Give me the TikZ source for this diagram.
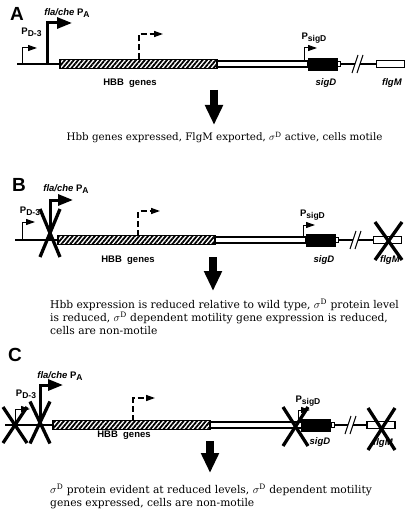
\documentclass[tikz,border=0pt]{standalone}
\usepackage{fontspec}
\setmainfont{DejaVu Serif}
\setsansfont{Liberation Sans}
\usetikzlibrary{positioning,arrows.meta,patterns.meta}

\newcommand{\lowsub}[1]{\raisebox{-0.35ex}{\fontsize{8.5}{8.5}\selectfont #1}}
\newcommand{\sigmaD}{$\sigma^{\mathrm{D}}$}

\begin{document}
\begin{tikzpicture}[x=1pt, y=-1pt]

% Styles
\tikzset{
    hbbbox/.style={rectangle, draw, line width=1.2pt, pattern={Lines[angle=50,distance=3.4pt,line width=1.8pt]}, minimum width=157pt, minimum height=9pt, inner sep=0pt},
    openbox/.style={rectangle, draw, line width=1.2pt, fill=white, minimum height=6pt, inner sep=0pt},
    sigdbox/.style={rectangle, draw, fill=black, minimum width=29pt, minimum height=12pt, inner sep=0pt},
    tagbox/.style={rectangle, draw, line width=0.8pt, minimum width=3pt, minimum height=5pt, inner sep=0pt},
    flgmbox/.style={rectangle, draw, line width=1.2pt, minimum width=28pt, minimum height=7pt, inner sep=0pt},
    dnaline/.style={line width=1.2pt},
    brk/.style={line width=1pt},
    smallprom/.style={line width=1pt, -{Triangle[length=9pt,width=6pt]}},
    bigprom/.style={line width=3pt, -{Triangle[length=15pt,width=11pt]}},
    dashprom/.style={line width=1.5pt, dash pattern=on 6pt off 3pt, -{Triangle[length=9pt,width=6pt]}},
    bigarrow/.style={line width=8pt, -{Triangle[length=20pt,width=17pt]}},
    knockout/.style={line width=3.3pt},
    panel/.style={font=\fontsize{19}{19}\selectfont\sffamily\bfseries, inner sep=0pt},
    genelabel/.style={font=\fontsize{9.5}{10}\selectfont\sffamily\bfseries, inner sep=0pt},
    caption/.style={font=\fontsize{10.3}{13}\selectfont, align=left, inner sep=0pt},
    longcaption/.style={caption, font=\fontsize{10.7}{13}\selectfont}
}

\useasboundingbox (0,0) rectangle (410,513);
\fill[white] (0,0) rectangle (410,513);

% Panel A
\node[panel] (labA) at (17,13.5) {A};
\coordinate (startA) at (17,64);
\node[hbbbox] (hbbA) at (138.5,64) {};
\node[openbox, minimum width=91pt] (midA) at (262.5,64) {};
\node[sigdbox] (sigdA) at (322.5,64) {};
\node[tagbox, right=0pt of sigdA] (tagA) {};
\coordinate (brkA1) at (355,64);
\coordinate (brkA2) at (360,64);
\node[flgmbox] (flgmA) at (390.5,64) {};
\draw[dnaline] (startA) -- (hbbA.west);
\draw[dnaline] (tagA.east) -- (brkA1);
\draw[dnaline] (brkA2) -- (flgmA.west);
\draw[brk] (brkA1) ++(-3,9) -- ++(6,-18);
\draw[brk] (brkA2) ++(-3,9) -- ++(6,-18);

\draw[smallprom] (22,64) |- (37,48);
\draw[bigprom] (47,64) |- (72,23);
\draw[dashprom] (139,59.5) |- (163,34);
\draw[smallprom] (304,61) |- (317,48);

\node[genelabel] (pdA) at (31.5,32) {P\lowsub{D-3}};
\node[genelabel] (flaA) at (67,13) {\textit{fla/che} P\lowsub{A}};
\node[genelabel] (psigA) at (314,38) {P\lowsub{sigD}};
\node[genelabel] (hbbtxtA) at (130,83) {HBB\ \ genes};
\node[genelabel] (sigdtxtA) at (326,83.5) {\textit{sigD}};
\node[genelabel] (flgmtxtA) at (392,83.5) {\textit{flgM}};

\coordinate (dnA1) at (214,90);
\coordinate (dnA2) at (214,125);
\draw[bigarrow] (dnA1) -- (dnA2);
\node[caption, anchor=base] (capA) at (224.5,141) {Hbb genes expressed, FlgM exported, \sigmaD\ active, cells motile};

% Panel B
\node[panel] (labB) at (19,184.5) {B};
\coordinate (startB) at (15,240);
\node[hbbbox] (hbbB) at (136.5,240) {};
\node[openbox, minimum width=91pt] (midB) at (260.5,240) {};
\node[sigdbox] (sigdB) at (320.5,240) {};
\node[tagbox, right=0pt of sigdB] (tagB) {};
\coordinate (brkB1) at (353,240);
\coordinate (brkB2) at (358,240);
\node[flgmbox] (flgmB) at (387.5,240) {};
\draw[dnaline] (startB) -- (hbbB.west);
\draw[dnaline] (tagB.east) -- (brkB1);
\draw[dnaline] (brkB2) -- (flgmB.west);
\draw[brk] (brkB1) ++(-3,9) -- ++(6,-18);
\draw[brk] (brkB2) ++(-3,9) -- ++(6,-18);

\draw[smallprom] (22,240) |- (35,222);
\draw[bigprom] (50,240) |- (73,200);
\draw[dashprom] (138,235.5) |- (160,211);
\draw[smallprom] (303,237) |- (315,225);

\node[genelabel] (pdB) at (30,211) {P\lowsub{D-3}};
\node[genelabel] (flaB) at (66,189) {\textit{fla/che} P\lowsub{A}};
\node[genelabel] (psigB) at (312.5,215) {P\lowsub{sigD}};
\node[genelabel] (hbbtxtB) at (128,260) {HBB\ \ genes};
\node[genelabel] (sigdtxtB) at (324,260) {\textit{sigD}};
\node[genelabel] (flgmtxtB) at (390,260) {\textit{flgM}};

\coordinate (dnB1) at (213,257);
\coordinate (dnB2) at (213,291);
\draw[bigarrow] (dnB1) -- (dnB2);
\node[longcaption, anchor=north west] (capB) at (50,298.5) {Hbb expression is reduced relative to wild type, \sigmaD\ protein level\\
is reduced, \sigmaD\ dependent motility gene expression is reduced,\\
cells are non-motile};

% Panel C
\node[panel] (labC) at (15,355) {C};
\coordinate (startC) at (5,425);
\node[hbbbox] (hbbC) at (131.5,425) {};
\node[openbox, minimum width=92pt] (midC) at (256,425) {};
\node[sigdbox] (sigdC) at (316,425) {};
\node[tagbox, right=0pt of sigdC] (tagC) {};
\coordinate (brkC1) at (348,425);
\coordinate (brkC2) at (353,425);
\node[flgmbox] (flgmC) at (381,425) {};
\draw[dnaline] (startC) -- (hbbC.west);
\draw[dnaline] (tagC.east) -- (brkC1);
\draw[dnaline] (brkC2) -- (flgmC.west);
\draw[brk] (brkC1) ++(-3,9) -- ++(6,-18);
\draw[brk] (brkC2) ++(-3,9) -- ++(6,-18);

\draw[smallprom] (15,425) |- (30,409);
\draw[bigprom] (40,425) |- (63,385);
\draw[dashprom] (133,420.5) |- (155,398);
\draw[smallprom] (298,422) |- (310,410);

\node[genelabel] (pdC) at (26,394) {P\lowsub{D-3}};
\node[genelabel] (flaC) at (60,376) {\textit{fla/che} P\lowsub{A}};
\node[genelabel] (psigC) at (308,401) {P\lowsub{sigD}};
\node[genelabel] (hbbtxtC) at (124,435) {HBB\ \ genes};
\node[genelabel] (sigdtxtC) at (320,442) {\textit{sigD}};
\node[genelabel] (flgmtxtC) at (383,443) {\textit{flgM}};

\coordinate (dnC1) at (210,441);
\coordinate (dnC2) at (210,473);
\draw[bigarrow] (dnC1) -- (dnC2);
\node[longcaption, anchor=north west] (capC) at (50,483.5) {\sigmaD\ protein evident at reduced levels, \sigmaD\ dependent motility\\
genes expressed, cells are non-motile};

% Knockouts
\foreach \cx/\cy/\w/\h in {50/233/10/24, 388.5/241/13.5/19, 15/425/12/18, 40/422.5/10/21, 295.5/426.5/12.5/19.5, 381.5/429/13.5/21} {
    \draw[knockout] (\cx-\w,\cy-\h) -- (\cx+\w,\cy+\h);
    \draw[knockout] (\cx+\w,\cy-\h) -- (\cx-\w,\cy+\h);
}

\end{tikzpicture}
\end{document}
